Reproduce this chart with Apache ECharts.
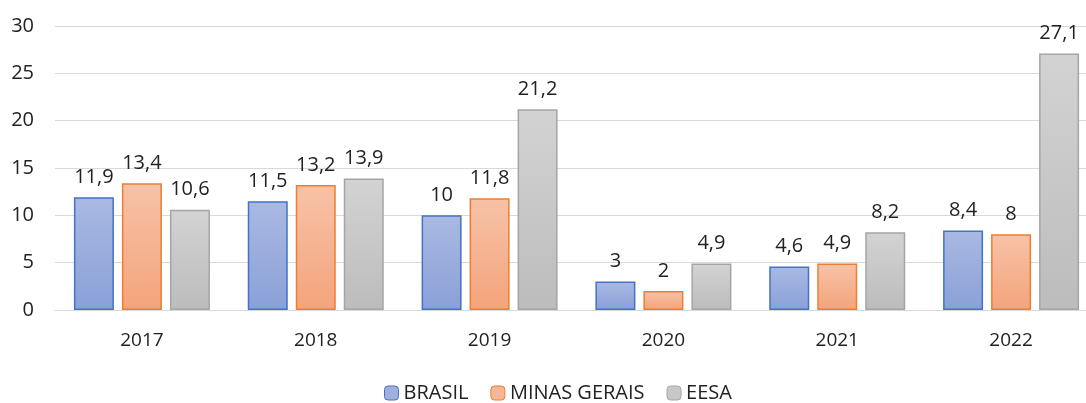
<!DOCTYPE html>
<html><head><meta charset="utf-8">
<script src="https://cdn.jsdelivr.net/npm/echarts@6/dist/echarts.min.js"></script>
<style>html,body{margin:0;padding:0;background:#fff}#c{width:1086px;height:403px}</style>
</head><body><div id="c"></div>
<script>
var categories = ['2017','2018','2019','2020','2021','2022'];
var brasil = [11.9, 11.5, 10, 3, 4.6, 8.4];
var minasGerais = [13.4, 13.2, 11.8, 2, 4.9, 8];
var eesa = [10.6, 13.9, 21.2, 4.9, 8.2, 27.1];
var yTicks = [0, 5, 10, 15, 20, 25, 30];

var FONT = 'Open Sans, Noto Sans, sans-serif';
function grad(a, b) {
  return new echarts.graphic.LinearGradient(0, 0, 0, 1, [{offset: 0, color: a}, {offset: 1, color: b}]);
}
function mk(name, data, c1, c2, border) {
  return {
    name: name, type: 'bar', data: data, barWidth: 40, barGap: '20%',
    itemStyle: {color: grad(c1, c2), borderColor: border, borderWidth: 1.5},
    label: {show: true, position: 'top', distance: 10, color: '#222', fontSize: 20, fontFamily: FONT,
      formatter: function (p) { return String(p.value).replace('.', ','); }}
  };
}
var chart = echarts.init(document.getElementById('c'));
chart.setOption({
  animation: false,
  textStyle: {fontFamily: FONT},
  grid: {left: 55, top: 26, width: 1043, height: 284, outerBoundsMode: 'none', containLabel: false},
  legend: {
    top: 383, left: 384, padding: 0, itemWidth: 14, itemHeight: 14, itemGap: 22,
    textStyle: {fontSize: 20, color: '#222', fontFamily: FONT},
    data: [
      {name: 'BRASIL', itemStyle: {color: '#9fb0de', borderColor: '#4472c4', borderWidth: 1}},
      {name: 'MINAS GERAIS', itemStyle: {color: '#f5b797', borderColor: '#ed7d31', borderWidth: 1}},
      {name: 'EESA', itemStyle: {color: '#c8c8c8', borderColor: '#a5a5a5', borderWidth: 1}}
    ]
  },
  xAxis: {
    type: 'category', data: categories,
    axisLine: {lineStyle: {color: '#d9d9d9', width: 1}},
    axisTick: {show: false},
    axisLabel: {color: '#222', fontSize: 19, margin: 21, fontFamily: FONT}
  },
  yAxis: {
    type: 'value', min: yTicks[0], max: yTicks[yTicks.length - 1], interval: 5,
    axisLine: {show: false}, axisTick: {show: false},
    axisLabel: {color: '#222', fontSize: 20, margin: 21, fontFamily: FONT},
    splitLine: {lineStyle: {color: '#d9d9d9', width: 1}}
  },
  series: [
    mk('BRASIL', brasil, '#a9b9e2', '#8aa0d8', '#4472c4'),
    mk('MINAS GERAIS', minasGerais, '#f7c2a8', '#f4a47b', '#ed7d31'),
    mk('EESA', eesa, '#d3d3d3', '#bcbcbc', '#a5a5a5')
  ]
});
</script></body></html>
